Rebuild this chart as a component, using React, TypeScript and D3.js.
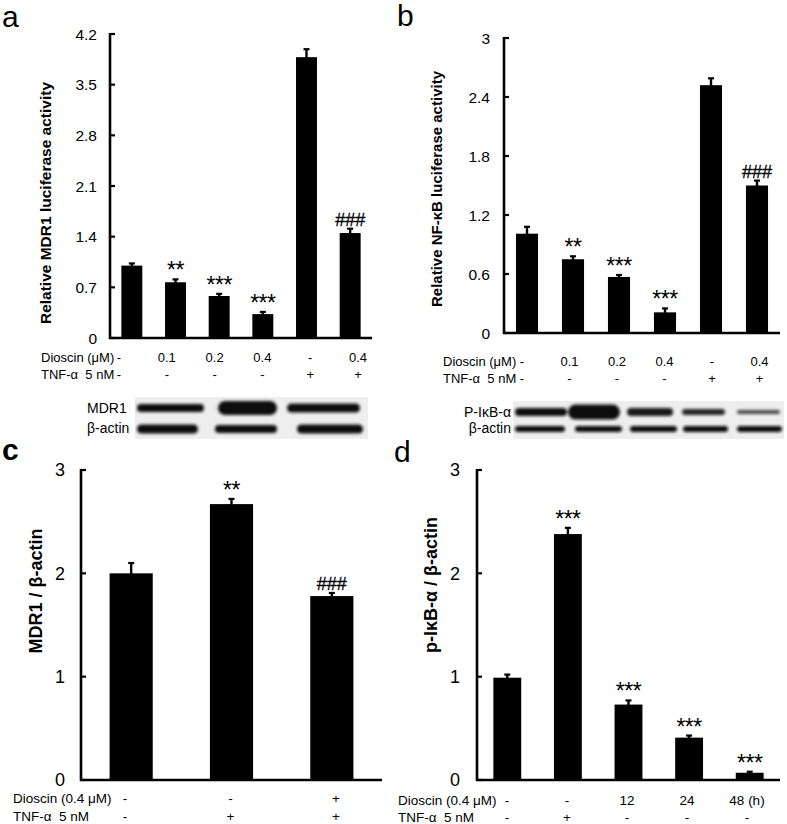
import React from 'react';
import * as d3 from 'd3';

// ---------- Panel a: Relative MDR1 luciferase activity ----------
const aCategories = ['ctrl', 'D0.1', 'D0.2', 'D0.4', 'TNF', 'TNF+D0.4'];
const aValues = [1.0, 0.77, 0.58, 0.33, 3.88, 1.45];
const aErrors = [0.03, 0.04, 0.03, 0.03, 0.11, 0.06];
const aMarks = ['', '**', '***', '***', '', '###'];
const aTicks = [0, 0.7, 1.4, 2.1, 2.8, 3.5, 4.2];
const aDioscinRow = ['-', '0.1', '0.2', '0.4', '-', '0.4'];
const aTnfRow = ['-', '-', '-', '-', '+', '+'];

// ---------- Panel b: Relative NF-κB luciferase activity ----------
const bCategories = ['ctrl', 'D0.1', 'D0.2', 'D0.4', 'TNF', 'TNF+D0.4'];
const bValues = [1.01, 0.75, 0.57, 0.21, 2.52, 1.5];
const bErrors = [0.07, 0.03, 0.02, 0.04, 0.07, 0.05];
const bMarks = ['', '**', '***', '***', '', '###'];
const bTicks = [0, 0.6, 1.2, 1.8, 2.4, 3];
const bDioscinRow = ['-', '0.1', '0.2', '0.4', '-', '0.4'];
const bTnfRow = ['-', '-', '-', '-', '+', '+'];

// ---------- Panel c: MDR1 / β-actin ----------
const cCategories = ['ctrl', 'TNF', 'TNF+D'];
const cValues = [2.0, 2.67, 1.78];
const cErrors = [0.1, 0.05, 0.03];
const cMarks = ['', '**', '###'];
const cTicks = [0, 1, 2, 3];
const cDioscinRow = ['-', '-', '+'];
const cTnfRow = ['-', '+', '+'];

// ---------- Panel d: p-IκB-α / β-actin ----------
const dCategories = ['ctrl', 'TNF', '12h', '24h', '48h'];
const dValues = [0.99, 2.38, 0.73, 0.41, 0.07];
const dErrors = [0.03, 0.06, 0.04, 0.02, 0.01];
const dMarks = ['', '***', '***', '***', '***'];
const dTicks = [0, 1, 2, 3];
const dDioscinRow = ['-', '-', '12', '24', '48 (h)'];
const dTnfRow = ['-', '+', '-', '-', '-'];

// ---------- Western blot band thickness (relative) ----------
const aBlotTarget = [8, 14, 9];
const aBlotActin = [9, 8, 9];
const bBlotTarget = [8, 15, 8, 6, 4];
const bBlotTargetOpacity = [1, 1, 0.95, 0.9, 0.75];
const bBlotActin = [6, 6, 6, 6, 6];

const FONT = '"Liberation Sans", Arial, Helvetica, sans-serif';

type PanelProps = {
  categories: string[];
  values: number[];
  errors: number[];
  marks: string[];
  ticks: number[];
  domainMax: number;
  x0: number;
  x1: number;
  yBottom: number;
  yTop: number;
  padding: number;
  tickFont: number;
  tickGap: number;
  title: string;
  titleX: number;
  titleY: number;
  titleFont: number;
  dioscinLabel: string;
  tnfLabel: string;
  labelX: number;
  rowFont: number;
  row1Y: number;
  row2Y: number;
  colStart: number;
  colStep: number;
  dioscinRow: string[];
  tnfRow: string[];
};

function BarPanel(p: PanelProps) {
  const y = d3.scaleLinear().domain([0, p.domainMax]).range([p.yBottom, p.yTop]);
  const x = d3
    .scaleBand<string>()
    .domain(p.categories)
    .range([p.x0, p.x1])
    .paddingInner(p.padding)
    .paddingOuter(p.padding / 2);
  const col = d3.scaleLinear().domain([0, 1]).range([p.colStart, p.colStart + p.colStep]);
  const bw = x.bandwidth();
  const sw = 2.6;
  return (
    <g fontFamily={FONT}>
      {p.categories.map((c, i) => {
        const xb = x(c) as number;
        const top = y(p.values[i]);
        const errTop = y(p.values[i] + p.errors[i]);
        const cx = xb + bw / 2;
        const isHash = p.marks[i].startsWith('#');
        return (
          <g key={c}>
            <line x1={cx} x2={cx} y1={top + 1} y2={errTop} stroke="#000" strokeWidth={2.4} />
            <line x1={cx - 3} x2={cx + 3} y1={errTop} y2={errTop} stroke="#000" strokeWidth={2.2} />
            <rect x={xb} y={top} width={bw} height={p.yBottom - top} fill="#000" />
            {p.marks[i] && (
              <text
                x={cx}
                y={errTop - (isHash ? 3 : 1)}
                textAnchor="middle"
                fontSize={isHash ? 18 : 23}
                letterSpacing={isHash ? 0 : -0.5}
                stroke={isHash ? '#000' : 'none'}
                strokeWidth={isHash ? 0.3 : 0}
                fill="#000"
              >
                {p.marks[i]}
              </text>
            )}
          </g>
        );
      })}
      <line x1={p.x0} x2={p.x0} y1={p.yTop - 1} y2={p.yBottom + 1} stroke="#000" strokeWidth={sw} />
      <line x1={p.x0 - 1} x2={p.x1} y1={p.yBottom} y2={p.yBottom} stroke="#000" strokeWidth={sw} />
      {p.ticks.map((t) => (
        <g key={t}>
          <line x1={p.x0} x2={p.x0 + 5} y1={y(t)} y2={y(t)} stroke="#000" strokeWidth={2.2} />
          <text
            x={p.x0 - p.tickGap}
            y={y(t)}
            dy="0.36em"
            textAnchor="end"
            fontSize={p.tickFont}
            fill="#000"
          >
            {d3.format('~g')(t)}
          </text>
        </g>
      ))}
      <text
        transform={`translate(${p.titleX},${p.titleY}) rotate(-90)`}
        textAnchor="middle"
        fontSize={p.titleFont}
        fontWeight="bold"
        fill="#000"
      >
        {p.title}
      </text>
      <text x={p.labelX} y={p.row1Y} fontSize={p.rowFont} fill="#000" style={{ whiteSpace: 'pre' }}>
        {p.dioscinLabel}
      </text>
      <text x={p.labelX} y={p.row2Y} fontSize={p.rowFont} fill="#000" style={{ whiteSpace: 'pre' }}>
        {p.tnfLabel}
      </text>
      {p.dioscinRow.map((s, i) => (
        <text key={'d' + i} x={col(i)} y={p.row1Y} textAnchor="middle" fontSize={p.rowFont} fill="#000">
          {s}
        </text>
      ))}
      {p.tnfRow.map((s, i) => (
        <text key={'t' + i} x={col(i)} y={p.row2Y} textAnchor="middle" fontSize={p.rowFont} fill="#000">
          {s}
        </text>
      ))}
    </g>
  );
}

type BlotProps = {
  x0: number;
  x1: number;
  y0: number;
  y1: number;
  lanes: [number, number][];
  actinLanes: [number, number][];
  targetY: number;
  actinY: number;
  target: number[];
  targetOpacity?: number[];
  actin: number[];
  labelTarget: string;
  labelX: number;
  labelAnchor: 'start' | 'end';
  filterId: string;
};

function Blot(p: BlotProps) {
  return (
    <g fontFamily={FONT}>
      <rect x={p.x0} y={p.y0} width={p.x1 - p.x0} height={p.y1 - p.y0} fill="#eeeeee" />
      <g filter={`url(#${p.filterId})`}>
        {p.lanes.map((l, i) => (
          <rect
            key={'t' + i}
            x={l[0]}
            y={p.targetY - p.target[i] / 2}
            width={l[1] - l[0]}
            height={p.target[i]}
            rx={p.target[i] / 2}
            fill="#111"
            opacity={p.targetOpacity ? p.targetOpacity[i] : 1}
          />
        ))}
        {p.actinLanes.map((l, i) => (
          <rect
            key={'a' + i}
            x={l[0]}
            y={p.actinY - p.actin[i] / 2}
            width={l[1] - l[0]}
            height={p.actin[i]}
            rx={p.actin[i] / 2}
            fill="#111"
          />
        ))}
      </g>
      <text x={p.labelX} y={p.targetY + 5} textAnchor={p.labelAnchor} fontSize={14} fill="#000">
        {p.labelTarget}
      </text>
      <text x={p.labelX} y={p.actinY + 4} textAnchor={p.labelAnchor} fontSize={14} fill="#000">
        β-actin
      </text>
    </g>
  );
}

export default function App() {
  return (
    <svg
      width={787}
      height={824}
      viewBox="0 0 787 824"
      style={{ position: 'absolute', left: 0, top: 0, background: '#fff' }}
    >
      <defs>
        <filter id="blurA" x="-10%" y="-50%" width="120%" height="200%">
          <feGaussianBlur stdDeviation="1.4" />
        </filter>
        <filter id="blurB" x="-10%" y="-50%" width="120%" height="200%">
          <feGaussianBlur stdDeviation="1.4" />
        </filter>
      </defs>
      <rect width={787} height={824} fill="#fff" />

      <text x={2} y={27} fontSize={30} fontFamily={FONT}>a</text>
      <text x={397} y={26} fontSize={30} fontFamily={FONT}>b</text>
      <text x={2} y={460} fontSize={30} fontFamily={FONT} fontWeight="bold">c</text>
      <text x={394} y={462} fontSize={30} fontFamily={FONT}>d</text>

      <BarPanel
        categories={aCategories}
        values={aValues}
        errors={aErrors}
        marks={aMarks}
        ticks={aTicks}
        domainMax={4.2}
        x0={110}
        x1={372}
        yBottom={338}
        yTop={34}
        padding={0.52}
        tickFont={15.5}
        tickGap={13}
        title="Relative MDR1 luciferase activity"
        titleX={51}
        titleY={203}
        titleFont={15.5}
        dioscinLabel="Dioscin (μM)"
        tnfLabel="TNF-α  5 nM"
        labelX={41}
        rowFont={13}
        row1Y={362}
        row2Y={379}
        colStart={119}
        colStep={47.8}
        dioscinRow={aDioscinRow}
        tnfRow={aTnfRow}
      />
      <Blot
        x0={135}
        x1={368}
        y0={397}
        y1={439}
        lanes={[[137, 204], [218, 277], [287, 360]]}
        actinLanes={[[137, 198], [215, 277], [297, 363]]}
        targetY={408}
        actinY={429}
        target={aBlotTarget}
        actin={aBlotActin}
        labelTarget="MDR1"
        labelX={87}
        labelAnchor="start"
        filterId="blurA"
      />

      <BarPanel
        categories={bCategories}
        values={bValues}
        errors={bErrors}
        marks={bMarks}
        ticks={bTicks}
        domainMax={3}
        x0={504}
        x1={780}
        yBottom={333}
        yTop={38}
        padding={0.52}
        tickFont={15.5}
        tickGap={14}
        title="Relative NF-κB luciferase activity"
        titleX={442}
        titleY={189}
        titleFont={15}
        dioscinLabel="Dioscin (μM)"
        tnfLabel="TNF-α  5 nM"
        labelX={443}
        rowFont={13}
        row1Y={366}
        row2Y={383}
        colStart={522}
        colStep={47.5}
        dioscinRow={bDioscinRow}
        tnfRow={bTnfRow}
      />
      <Blot
        x0={513}
        x1={784}
        y0={401}
        y1={439}
        lanes={[[515, 567], [568, 620], [627, 673], [682, 725], [737, 780]]}
        actinLanes={[[515, 565], [575, 622], [630, 677], [683, 728], [737, 782]]}
        targetY={412}
        actinY={429}
        target={bBlotTarget}
        targetOpacity={bBlotTargetOpacity}
        actin={bBlotActin}
        labelTarget="P-IκB-α"
        labelX={511}
        labelAnchor="end"
        filterId="blurB"
      />

      <BarPanel
        categories={cCategories}
        values={cValues}
        errors={cErrors}
        marks={cMarks}
        ticks={cTicks}
        domainMax={3}
        x0={81}
        x1={382}
        yBottom={780}
        yTop={470}
        padding={0.57}
        tickFont={18}
        tickGap={16}
        title="MDR1 / β-actin"
        titleX={42}
        titleY={591}
        titleFont={18}
        dioscinLabel="Dioscin (0.4 μM)"
        tnfLabel="TNF-α  5 nM"
        labelX={13}
        rowFont={13.5}
        row1Y={803}
        row2Y={821}
        colStart={125}
        colStep={105.5}
        dioscinRow={cDioscinRow}
        tnfRow={cTnfRow}
      />

      <BarPanel
        categories={dCategories}
        values={dValues}
        errors={dErrors}
        marks={dMarks}
        ticks={dTicks}
        domainMax={3}
        x0={477}
        x1={780}
        yBottom={780}
        yTop={470}
        padding={0.54}
        tickFont={18}
        tickGap={17}
        title="p-IκB-α / β-actin"
        titleX={437}
        titleY={585}
        titleFont={18}
        dioscinLabel="Dioscin (0.4 μM)"
        tnfLabel="TNF-α  5 nM"
        labelX={398}
        rowFont={13.5}
        row1Y={805}
        row2Y={822}
        colStart={507}
        colStep={60}
        dioscinRow={dDioscinRow}
        tnfRow={dTnfRow}
      />
    </svg>
  );
}
